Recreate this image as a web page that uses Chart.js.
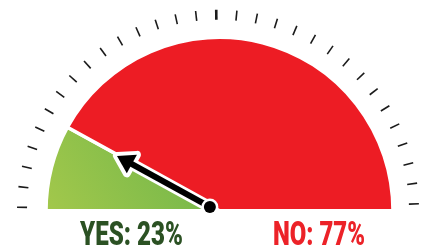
<!DOCTYPE html>
<html><head><meta charset="utf-8">
<script src="https://cdn.jsdelivr.net/npm/chart.js@4.4.0/dist/chart.umd.min.js"></script>
<style>
html,body{margin:0;padding:0;background:#fff;}
#wrap{position:relative;width:421px;height:247px;overflow:hidden;}
canvas{position:absolute;left:0;top:0;}
.lbl{position:absolute;font-family:Roboto,'Liberation Sans',sans-serif;font-weight:900;font-size:34px;line-height:34px;white-space:nowrap;transform-origin:0 0;}
</style></head><body>
<div id="wrap"><canvas id="c" width="421" height="247"></canvas>
<div id="yes" class="lbl"></div><div id="no" class="lbl"></div></div>
<script>
// ---- data ----
const categories = ['YES', 'NO'];
const labelPercents = [23, 77];      // printed under the gauge
const gaugeShares = [16, 84];        // share of the half circle as drawn
const tickCount = 31;
const labelColors = ['#2b5123', '#ec2228'];

let greenGrad = null;
function sliceColor(ctx) {
  if (ctx.dataIndex === 1) return '#ed1c24';
  const c = ctx.chart.ctx;
  if (!greenGrad) {
    greenGrad = c.createLinearGradient(45, 211, 205, 115);
    greenGrad.addColorStop(0, '#a3c84b');
    greenGrad.addColorStop(1, '#6db54a');
  }
  return greenGrad;
}

const gaugeDecor = {
  id: 'gaugeDecor',
  afterDatasetsDraw(chart) {
    const ctx = chart.ctx;
    const arc = chart.getDatasetMeta(0).data[0];
    const cx = arc.x, cy = arc.y, R = arc.outerRadius;
    // ticks
    ctx.save();
    ctx.strokeStyle = '#1b1b1b';
    ctx.lineCap = 'butt';
    const tcx = cx - 1.5;
    for (let i = 0; i < tickCount; i++) {
      const deg = 1 + i * (177 / (tickCount - 1));
      const a = -Math.PI + deg * Math.PI / 180;
      const r1 = R + 17.5, r2 = R + 27.5;
      ctx.lineWidth = (i === (tickCount - 1) / 2) ? 2.6 : 1.6;
      ctx.beginPath();
      ctx.moveTo(tcx + r1 * Math.cos(a), cy + r1 * Math.sin(a));
      ctx.lineTo(tcx + r2 * Math.cos(a), cy + r2 * Math.sin(a));
      ctx.stroke();
    }
    // needle along the slice boundary
    const a = arc.endAngle;
    const ux = Math.cos(a), uy = Math.sin(a);
    const px = cx + 11 * ux, py = cy + 11 * uy + 1.5;
    const len = 106, headL = 17, headW = 10.5;
    const tipx = px + len * ux, tipy = py + len * uy;
    const bx = px + (len - headL) * ux, by = py + (len - headL) * uy;
    const nx = -uy, ny = ux;
    const tri = () => {
      ctx.beginPath();
      ctx.moveTo(tipx, tipy);
      ctx.lineTo(bx + headW * nx, by + headW * ny);
      ctx.lineTo(bx - headW * nx, by - headW * ny);
      ctx.closePath();
    };
    ctx.lineJoin = 'round';
    ctx.strokeStyle = '#fff';
    ctx.lineWidth = 11.5;
    ctx.beginPath(); ctx.moveTo(px, py); ctx.lineTo(bx + 2 * ux, by + 2 * uy); ctx.stroke();
    ctx.lineWidth = 8;
    tri(); ctx.stroke();
    ctx.fillStyle = '#000';
    tri(); ctx.fill();
    ctx.strokeStyle = '#000';
    ctx.lineWidth = 6;
    ctx.beginPath(); ctx.moveTo(px, py); ctx.lineTo(bx + 2 * ux, by + 2 * uy); ctx.stroke();
    // pivot
    ctx.fillStyle = '#fff';
    ctx.beginPath(); ctx.arc(px, py, 8.5, 0, Math.PI * 2); ctx.fill();
    ctx.fillStyle = '#000';
    ctx.beginPath(); ctx.arc(px, py, 6, 0, Math.PI * 2); ctx.fill();
    ctx.restore();
  }
};

new Chart(document.getElementById('c'), {
  type: 'doughnut',
  data: {
    labels: categories,
    datasets: [{
      data: gaugeShares,
      backgroundColor: sliceColor,
      borderColor: '#ffffff',
      borderWidth: 3.5
    }]
  },
  options: {
    responsive: false,
    animation: false,
    events: [],
    rotation: -90,
    circumference: 180,
    cutout: 0,
    layout: { padding: { left: 44, right: 26, top: 35.5, bottom: 34.5 } },
    plugins: { legend: { display: false }, tooltip: { enabled: false } }
  },
  plugins: [gaugeDecor]
});

// labels under the gauge
const boxes = [{ id: 'yes', left: 80, width: 103 }, { id: 'no', left: 273, width: 92 }];
const mctx = document.createElement('canvas').getContext('2d');
mctx.font = "900 34px Roboto";
boxes.forEach((b, i) => {
  const el = document.getElementById(b.id);
  const txt = categories[i] + ': ' + labelPercents[i] + '%';
  el.textContent = txt;
  el.style.color = labelColors[i];
  const w = mctx.measureText(txt).width;
  el.style.left = b.left + 'px';
  el.style.top = '216px';
  el.style.transform = 'scaleX(' + (b.width / w) + ')';
});
</script>
</body></html>
